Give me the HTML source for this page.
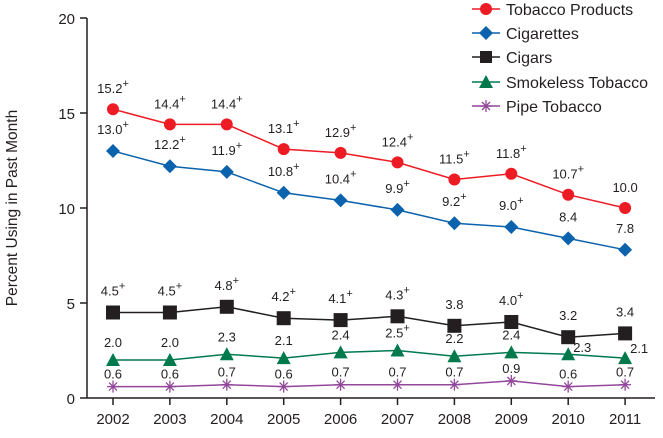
<!DOCTYPE html>
<html><head><meta charset="utf-8"><style>
body{margin:0;background:#fff;}
svg text{font-family:"Liberation Sans",Arial,sans-serif;fill:#231f20;}
</style></head><body>
<svg width="663" height="433" viewBox="0 0 663 433" xmlns="http://www.w3.org/2000/svg">
<g stroke="#231f20" stroke-width="1.5" fill="none">
<line x1="87" y1="18" x2="87" y2="398"/>
<line x1="87" y1="398" x2="655" y2="398"/>
<line x1="80" y1="18" x2="87" y2="18"/><line x1="80" y1="113" x2="87" y2="113"/>
<line x1="80" y1="208" x2="87" y2="208"/><line x1="80" y1="303" x2="87" y2="303"/>
<line x1="80" y1="398" x2="87" y2="398"/>
</g>
<g font-size="15" text-anchor="end">
<text x="75" y="24">20</text><text x="75" y="119">15</text><text x="75" y="214">10</text><text x="75" y="309">5</text><text x="75" y="404">0</text>
</g>
<text transform="translate(17,208) rotate(-90)" font-size="15.5" text-anchor="middle">Percent Using in Past Month</text>
<g id="xt" font-size="15" text-anchor="middle"></g>
<g id="plot"></g>
<g font-size="16">
<line x1="472" y1="9" x2="500" y2="9" stroke="#ed1c24" stroke-width="1.5"/><circle cx="486" cy="9" r="6" fill="#ed1c24"/><text x="506" y="15">Tobacco Products</text>
<line x1="472" y1="33" x2="500" y2="33" stroke="#0b62ad" stroke-width="1.5"/><polygon points="486,26 493,33 486,40 479,33" fill="#0b62ad"/><text x="506" y="39">Cigarettes</text>
<line x1="472" y1="57" x2="500" y2="57" stroke="#231f20" stroke-width="1.5"/><rect x="480" y="51" width="12" height="12" fill="#231f20"/><text x="506" y="63">Cigars</text>
<line x1="472" y1="82" x2="500" y2="82" stroke="#007a4d" stroke-width="1.5"/><polygon points="486,75 493,88 479,88" fill="#007a4d"/><text x="506" y="88">Smokeless Tobacco</text>
<line x1="472" y1="106" x2="500" y2="106" stroke="#92479b" stroke-width="1.5"/><g stroke="#92479b" stroke-width="1.3"><line x1="486" y1="100" x2="486" y2="112"/><line x1="480" y1="106" x2="492" y2="106"/><line x1="482" y1="102" x2="490" y2="110"/><line x1="490" y1="102" x2="482" y2="110"/></g><text x="506" y="112">Pipe Tobacco</text>
</g>
</svg>
<script>
var NS="http://www.w3.org/2000/svg";
function X(i){return 113+56.9*i;}function Y(v){return 398-19*v;}
function el(t,a,p,txt){var e=document.createElementNS(NS,t);for(var k in a)e.setAttribute(k,a[k]);if(txt!==undefined)e.textContent=txt;p.appendChild(e);return e;}
var xt=document.getElementById('xt'),svg=document.querySelector('svg'),pl=document.getElementById('plot');
for(var i=0;i<10;i++){el('line',{x1:X(i),y1:398,x2:X(i),y2:405,stroke:'#231f20','stroke-width':1.5},svg);el('text',{x:X(i),y:424},xt,String(2002+i));}
var S=[
{c:'#ed1c24',m:'c',v:[15.2,14.4,14.4,13.1,12.9,12.4,11.5,11.8,10.7,10.0],p:[1,1,1,1,1,1,1,1,1,0],o:-16},
{c:'#0b62ad',m:'d',v:[13.0,12.2,11.9,10.8,10.4,9.9,9.2,9.0,8.4,7.8],p:[1,1,1,1,1,1,1,1,0,0],o:-17},
{c:'#231f20',m:'s',v:[4.5,4.5,4.8,4.2,4.1,4.3,3.8,4.0,3.2,3.4],p:[1,1,1,1,1,1,0,1,0,0],o:-17},
{c:'#007a4d',m:'t',v:[2.0,2.0,2.3,2.1,2.4,2.5,2.2,2.4,2.3,2.1],p:[0,0,0,0,0,1,0,0,0,0],o:-13},
{c:'#92479b',m:'x',v:[0.6,0.6,0.7,0.6,0.7,0.7,0.7,0.9,0.6,0.7],p:[0,0,0,0,0,0,0,0,0,0],o:-8}];
S.forEach(function(s,si){
var pts=s.v.map(function(v,i){return X(i)+','+Y(v);}).join(' ');
el('polyline',{points:pts,fill:'none',stroke:s.c,'stroke-width':1.5},pl);
s.v.forEach(function(v,i){var x=X(i),y=Y(v);
if(s.m=='c')el('circle',{cx:x,cy:y,r:6,fill:s.c},pl);
if(s.m=='d')el('polygon',{points:(x)+','+(y-7)+' '+(x+7)+','+y+' '+x+','+(y+7)+' '+(x-7)+','+y,fill:s.c},pl);
if(s.m=='s')el('rect',{x:x-7,y:y-7,width:14,height:14,fill:s.c},pl);
if(s.m=='t')el('polygon',{points:x+','+(y-7)+' '+(x+7)+','+(y+6)+' '+(x-7)+','+(y+6),fill:s.c},pl);
if(s.m=='x'){var g=el('g',{stroke:s.c,'stroke-width':1.3},pl);el('line',{x1:x,y1:y-6,x2:x,y2:y+6},g);el('line',{x1:x-6,y1:y,x2:x+6,y2:y},g);el('line',{x1:x-4,y1:y-4,x2:x+4,y2:y+4},g);el('line',{x1:x+4,y1:y-4,x2:x-4,y2:y+4},g);}
var lx=x,ly=y+s.o,anc='middle';
if(si==3&&i==8){lx=x+5;ly=352;anc='start';}
if(si==3&&i==9){lx=x+5;ly=353;anc='start';}
var t=el('text',{x:lx,y:ly,'font-size':13,'text-anchor':anc},pl,v.toFixed(1));
if(s.p[i]){el('tspan',{dy:-6,'font-size':11},t,'+');}
});});
</script>
</body></html>
